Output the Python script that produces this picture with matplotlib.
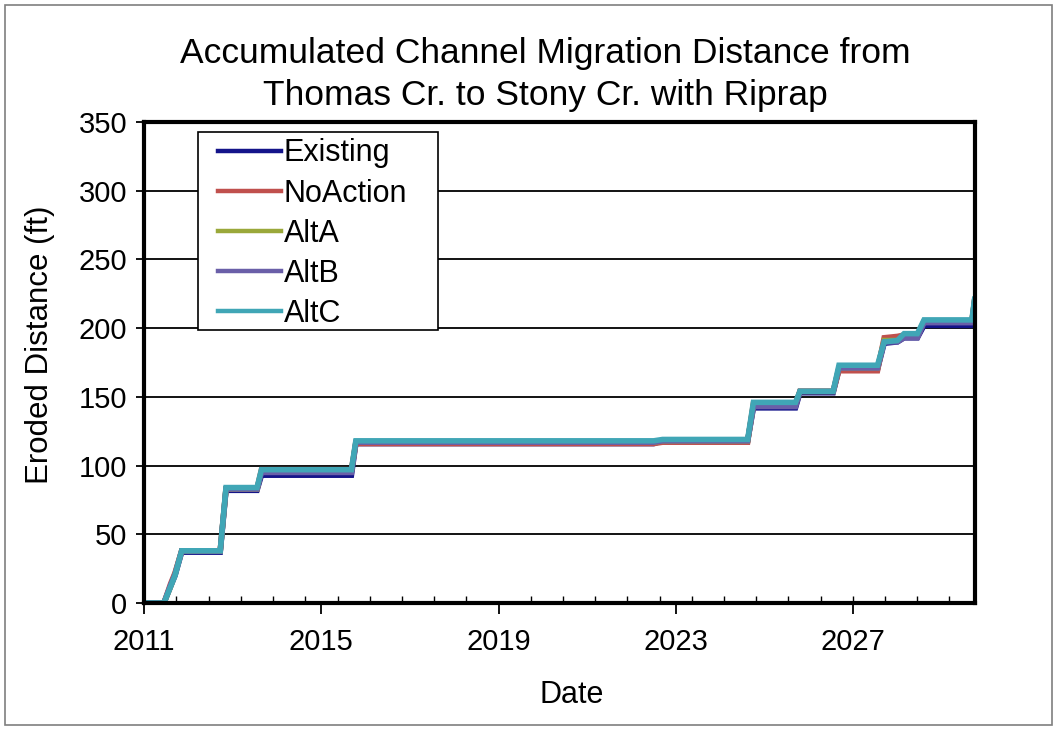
import matplotlib
matplotlib.use("Agg")
import matplotlib.pyplot as plt
import matplotlib.patches as mpatches
import numpy as np

plt.rcParams['font.family'] = ['Liberation Sans', 'DejaVu Sans']

# ---- data (decimal years, accumulated eroded distance in ft) ----
dates = [2011.0, 2011.45, 2011.6, 2011.7, 2011.85, 2012.72, 2012.85, 2013.55, 2013.65,
         2015.68, 2015.78, 2022.5, 2022.7, 2024.62, 2024.75, 2025.7, 2025.8, 2026.55,
         2026.68, 2027.55, 2027.7, 2028.0, 2028.15, 2028.45, 2028.6, 2029.68, 2029.74]

existing = [0, 0, 12, 20, 37, 37, 82, 82, 93, 93, 116, 116, 118, 118, 142, 142, 153, 153,
            170, 170, 189, 190, 193, 193, 202, 202, 218]
noaction = [0, 0, 14, 22, 38, 38, 83, 83, 97, 97, 116, 116, 117, 117, 145, 145, 154, 154,
            169, 169, 193, 194, 195, 195, 205, 205, 220]
alta = [0, 0, 12, 21, 38, 38, 83, 83, 96, 96, 117, 117, 118, 118, 144, 144, 154, 154,
        171, 171, 191, 191, 194, 194, 205, 205, 220]
altb = [0, 0, 13, 21, 38, 38, 83, 83, 95, 95, 117, 117, 118, 118, 143, 143, 154, 154,
        171, 171, 190, 190, 193, 193, 204, 204, 220]
altc = [0, 0, 12, 20, 38, 38, 84, 84, 97, 97, 118, 118, 119, 119, 146, 146, 154, 154,
        173, 173, 190, 191, 196, 196, 206, 206, 221]

series_names = ["Existing", "NoAction", "AltA", "AltB", "AltC"]
series_values = [existing, noaction, alta, altb, altc]
series_colors = ["#14148a", "#c0504d", "#9aa83a", "#6a5fa8", "#40a6b6"]

x_ticks = [2011, 2015, 2019, 2023, 2027]
y_ticks = [0, 50, 100, 150, 200, 250, 300, 350]

W, H = 1058, 730
fig = plt.figure(figsize=(W / 100, H / 100), dpi=100)
fig.patch.set_facecolor("white")

# outer chart border
fig.patches.append(mpatches.Rectangle((5 / W, 5 / H), 1047 / W, 720 / H,
                                      transform=fig.transFigure, fill=False,
                                      edgecolor="#7f7f7f", linewidth=1.2))

left, right, top, bottom = 144, 975, 122, 603
ax = fig.add_axes([left / W, 1 - bottom / H, (right - left) / W, (bottom - top) / H])

for name, vals, col in zip(series_names, series_values, series_colors):
    ax.plot(dates, vals, color=col, lw=4.0, label=name, solid_joinstyle='miter')

ax.set_xlim(2011, 2029.75)
ax.set_ylim(0, 350)
ax.set_xticks(x_ticks)
ax.set_xticklabels([str(t) for t in x_ticks])
ax.set_yticks(y_ticks)
ax.set_yticklabels([str(t) for t in y_ticks])
minor = np.arange(2019 - 0.7267 * 11, 2029.75, 0.7267)
minor = minor[(minor > 2011.3) & (minor < 2029.7)]
ax.set_xticks(minor, minor=True)

ax.tick_params(axis='both', which='major', labelsize=21, direction='out',
               length=6, width=1.3, color='black')
ax.tick_params(axis='x', which='major', length=8, pad=10)
ax.tick_params(axis='y', which='major', pad=6)
ax.tick_params(axis='x', which='minor', direction='in', length=5, width=1.0)

ax.grid(axis='y', color='black', linewidth=1.3)
ax.set_axisbelow(True)
for sp in ax.spines.values():
    sp.set_linewidth(3)
    sp.set_color('black')

fig.text(545 / W, 1 - 53 / H, "Accumulated Channel Migration Distance from",
         ha='center', va='center', fontsize=25.5)
fig.text(545 / W, 1 - 96 / H, "Thomas Cr. to Stony Cr. with Riprap",
         ha='center', va='center', fontsize=25.5)
fig.text(40 / W, 1 - 345 / H, "Eroded Distance (ft)", rotation=90,
         ha='center', va='center', fontsize=22.5)
fig.text(572 / W, 1 - 695 / H, "Date", ha='center', va='center', fontsize=22)

# legend frame
lx0, ly0, lx1, ly1 = 198, 132, 438, 330
ax.add_patch(mpatches.Rectangle((lx0 / W, 1 - ly1 / H), (lx1 - lx0) / W, (ly1 - ly0) / H,
                                transform=fig.transFigure, facecolor='white',
                                edgecolor='black', linewidth=1.2, zorder=4,
                                clip_on=False))
leg = ax.legend(loc='upper left', bbox_to_anchor=(218 / W, 1 - 138.5 / H),
                bbox_transform=fig.transFigure, borderaxespad=0, borderpad=0,
                fontsize=22, frameon=False, handlelength=2.05,
                handletextpad=0.1, labelspacing=0.33)
leg.set_zorder(5)
for ln in leg.get_lines():
    ln.set_linewidth(3.2)

fig.savefig("out.png", dpi=100, facecolor="white")
